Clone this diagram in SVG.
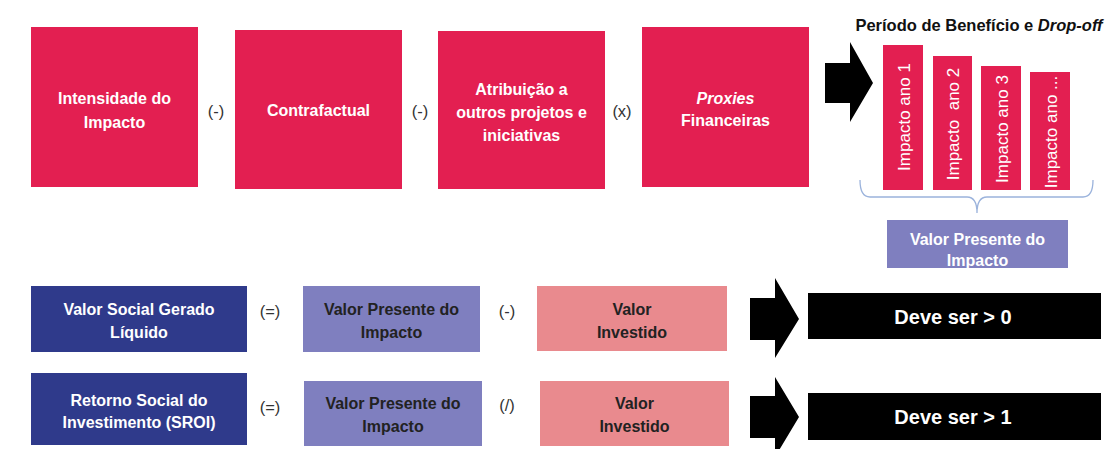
<svg xmlns="http://www.w3.org/2000/svg" width="1106" height="449" viewBox="0 0 1106 449">
<style>
text{font-family:"Liberation Sans",Arial,sans-serif;text-anchor:middle;dominant-baseline:central}
.red{fill:#e31f51}
.navy{fill:#2f3a8b}
.lav{fill:#7f7fbf}
.pink{fill:#e98a8e}
.blk{fill:#000}
.wb{fill:#fff;font-weight:bold;font-size:16px}
.db{fill:#222;font-weight:bold;font-size:16px}
.op{fill:#333;font-size:16.5px}
.bar{fill:#fff;font-size:17px}
.deve{fill:#fff;font-weight:bold;font-size:20px}
</style>
<rect width="1106" height="449" fill="#fff"/>
<g id="connectors">
<path d="M825,63 H850 V42 L873,83 L850,122 V103 H825 Z" fill="#000"/>
<path d="M750,298 H775 V278 L799,319 L775,358 V340 H750 Z" fill="#000"/>
<path d="M750,396 H775 V377 L799,417 L775,457 V438 H750 Z" fill="#000"/>
<path d="M860,180 Q860,197 870,197 H967 Q977,197 977,213 Q977,197 987,197 H1083 Q1093,197 1093,180" fill="none" stroke="#9bb3dc" stroke-width="1.3"/>
</g>
<g id="n-intensidade"><rect class="red" x="31" y="27" width="167" height="160"/><text class="wb" x="114.5" y="98">Intensidade do</text><text class="wb" x="114.5" y="122">Impacto</text></g>
<text class="op" x="216" y="111">(-)</text>
<g id="n-contrafactual"><rect class="red" x="235" y="30" width="167" height="159"/><text class="wb" x="318.5" y="110">Contrafactual</text></g>
<text class="op" x="420" y="111">(-)</text>
<g id="n-atribuicao"><rect class="red" x="438" y="31" width="167" height="158"/><text class="wb" x="521.5" y="89">Atribuição a</text><text class="wb" x="521.5" y="112">outros projetos e</text><text class="wb" x="521.5" y="135">iniciativas</text></g>
<text class="op" x="622" y="111">(x)</text>
<g id="n-proxies"><rect class="red" x="642" y="27" width="167" height="160"/><text class="wb" x="725.5" y="98" font-style="italic">Proxies</text><text class="wb" x="725.5" y="120">Financeiras</text></g>
<text x="979" y="25" font-weight="bold" font-size="16.5px" fill="#111">Período de Benefício e <tspan font-style="italic">Drop-off</tspan></text>
<g id="n-ano1"><rect class="red" x="883" y="45" width="40" height="145"/><text class="bar" transform="translate(904,117) rotate(-90)">Impacto ano 1</text></g>
<g id="n-ano2"><rect class="red" x="933" y="56" width="39" height="134"/><text class="bar" transform="translate(953,124) rotate(-90)" xml:space="preserve">Impacto  ano 2</text></g>
<g id="n-ano3"><rect class="red" x="981" y="66" width="40" height="124"/><text class="bar" transform="translate(1002,129) rotate(-90)">Impacto ano 3</text></g>
<g id="n-ano4"><rect class="red" x="1030" y="72" width="40" height="118"/><text class="bar" transform="translate(1051,132) rotate(-90)">Impacto ano ...</text></g>
<g id="n-vpi-top"><rect class="lav" x="887" y="220" width="181" height="48"/><text class="wb" x="977.5" y="239">Valor Presente do</text><text class="wb" x="977.5" y="260">Impacto</text></g>
<g id="n-vsgl"><rect class="navy" x="31" y="286" width="216" height="66"/><text class="wb" x="139" y="309">Valor Social Gerado</text><text class="wb" x="139" y="332">Líquido</text></g>
<text class="op" x="270" y="311">(=)</text>
<g id="n-vpi1"><rect class="lav" x="303" y="286" width="177" height="66"/><text class="db" x="391.5" y="309">Valor Presente do</text><text class="db" x="391.5" y="332">Impacto</text></g>
<text class="op" x="507" y="311">(-)</text>
<g id="n-vi1"><rect class="pink" x="537" y="286" width="190" height="65"/><text class="db" x="632" y="309">Valor</text><text class="db" x="632" y="332">Investido</text></g>
<g id="n-deve0"><rect class="blk" x="808" y="293" width="293" height="46"/><text class="deve" x="953" y="317">Deve ser &gt; 0</text></g>
<g id="n-sroi"><rect class="navy" x="31" y="373" width="216" height="72"/><text class="wb" x="139" y="400">Retorno Social do</text><text class="wb" x="139" y="422">Investimento (SROI)</text></g>
<text class="op" x="270" y="407">(=)</text>
<g id="n-vpi2"><rect class="lav" x="304" y="381" width="178" height="65"/><text class="db" x="393" y="403">Valor Presente do</text><text class="db" x="393" y="426">Impacto</text></g>
<text class="op" x="507" y="405">(/)</text>
<g id="n-vi2"><rect class="pink" x="540" y="381" width="189" height="65"/><text class="db" x="634.5" y="403">Valor</text><text class="db" x="634.5" y="426">Investido</text></g>
<g id="n-deve1"><rect class="blk" x="808" y="393" width="293" height="47"/><text class="deve" x="953" y="417">Deve ser &gt; 1</text></g>
</svg>
